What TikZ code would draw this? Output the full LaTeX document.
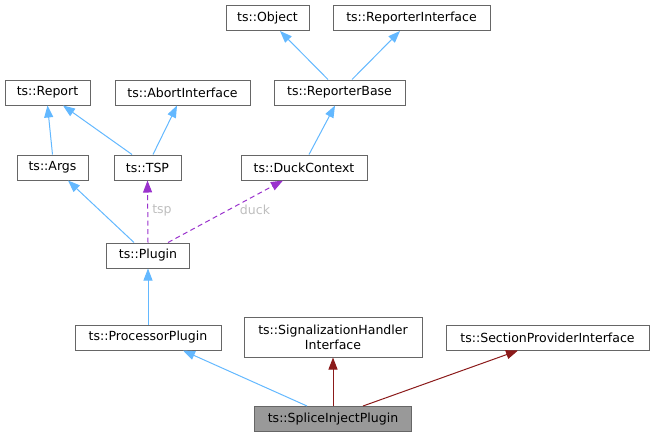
\documentclass[tikz,border=0pt]{standalone}
\usepackage{fontspec}
\setmainfont{DejaVu Sans}
\usetikzlibrary{arrows.meta,calc}
\definecolor{inherit}{HTML}{63B8FF}
\definecolor{usage}{HTML}{9A32CD}
\definecolor{privinh}{HTML}{8B1A1A}
\definecolor{boxline}{HTML}{666666}
\definecolor{lbl}{HTML}{BEBEBE}
\begin{document}
\begin{tikzpicture}[x=0.75pt,y=-0.75pt,
    cls/.style={draw=boxline,line width=0.75pt,fill=white,inner sep=0pt,minimum height=18.75pt,font=\fontsize{9.4}{11}\selectfont,align=center},
    base/.style={-{Triangle[length=9pt,width=6.75pt]},line width=0.75pt,color=inherit},
    uses/.style={base,color=usage,dash pattern=on 3.75pt off 2.6pt},
    priv/.style={base,color=privinh}]
            \useasboundingbox (0,0) rectangle (655,437); % edit here for the margins
            % classes
            \node[cls,minimum width=62.25pt] (obj) at (267.5,18) {ts::Object};
            \node[cls,minimum width=117.75pt] (repi) at (411.5,18) {ts::ReporterInterface};
            \node[cls,minimum width=63.75pt] (rep) at (47.5,92.5) {ts::Report};
            \node[cls,minimum width=101.25pt] (abort) at (182.5,92.5) {ts::AbortInterface};
            \node[cls,minimum width=98.25pt] (repb) at (339.5,92.5) {ts::ReporterBase};
            \node[cls,minimum width=53.25pt] (args) at (52.5,167.5) {ts::Args};
            \node[cls,minimum width=50.25pt] (tsp) at (147.5,167.5) {ts::TSP};
            \node[cls,minimum width=94.5pt] (duck) at (304,167.5) {ts::DuckContext};
            \node[cls,minimum width=62.25pt] (plug) at (148,255.5) {ts::Plugin};
            \node[cls,minimum width=109.5pt] (proc) at (148,337.5) {ts::ProcessorPlugin};
            \node[cls,minimum width=133.5pt,minimum height=30pt] (sig) at (333,337) {ts::SignalizationHandler\\Interface};
            \node[cls,minimum width=152.25pt] (sect) at (547.5,337.5) {ts::SectionProviderInterface};
            \node[cls,minimum width=117.75pt,fill=black!40] (splice) at (333,419) {ts::SpliceInjectPlugin};
            % inheritance
            \draw[base] (args.north) -- (rep.south);
            \draw[base] ($(tsp.north)+(-15.5,0)$) -- ($(rep.south)+(15.5,0)$);
            \draw[base] ($(tsp.north)+(5.5,0)$) -- ($(abort.south)+(-5.5,0)$);
            \draw[base] ($(duck.north)+(5,0)$) -- ($(repb.south)+(-4.5,0)$);
            \draw[base] ($(repb.north)+(-11.5,0)$) -- ($(obj.south)+(12.5,0)$);
            \draw[base] ($(repb.north)+(12.5,0)$) -- ($(repi.south)+(-11.5,0)$);
            \draw[base] ($(plug.north)+(-14,0)$) -- ($(args.south)+(15.5,0)$);
            \draw[base] (proc.north) -- (plug.south);
            \draw[base] ($(splice.north)+(-26,0)$) -- ($(proc.south)+(35,0)$);
            \draw[priv] (splice.north) -- (sig.south);
            \draw[priv] ($(splice.north)+(30,0)$) -- ($(sect.south)+(-29.5,0)$);
            % members
            \draw[uses] (plug.north) -- (tsp.south);
            \draw[uses] ($(plug.north)+(20,0)$) -- ($(duck.south)+(-21,0)$);
            \node[text=lbl,font=\fontsize{9.4}{11}\selectfont] (ltsp) at (162,210) {tsp};
            \node[text=lbl,font=\fontsize{9.4}{11}\selectfont] (lduck) at (255,210) {duck};
            \end{tikzpicture}
\end{document}
